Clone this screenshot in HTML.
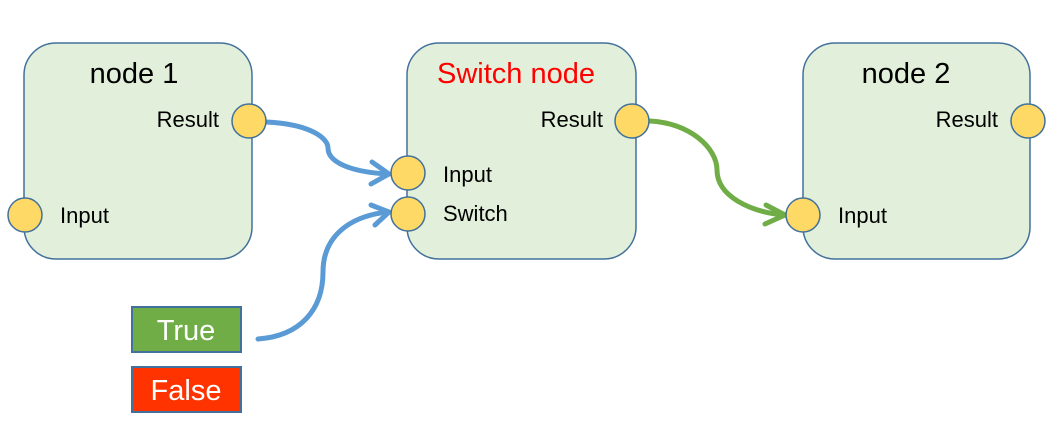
<!DOCTYPE html>
<html><head><style>body{margin:0;background:#fff}svg{display:block}</style></head>
<body>
<svg width="1059" height="439" viewBox="0 0 1059 439" font-family="Liberation Sans, sans-serif">
<g fill="#e2efda" stroke="#41719c" stroke-width="1.5">
<rect x="24" y="43" width="228" height="216" rx="32"/>
<rect x="407" y="43" width="229" height="216" rx="32"/>
<rect x="803" y="43" width="227" height="216" rx="32"/>
</g>
<g fill="none" stroke-width="5" stroke-linecap="round" stroke-linejoin="round">
<path d="M266 122 C310 124 328 138 328 148 C328 162 350 172 388 174" stroke="#5b9bd5"/>
<path d="M372 162 L389 174 L371 184" stroke="#5b9bd5"/>
<path d="M258 339 C300 336 323 310 323 272 C323 236 350 216 388 212" stroke="#5b9bd5"/>
<path d="M371 205 L389 212 L375 225" stroke="#5b9bd5"/>
<path d="M650 121 C690 123 717 148 717 170 C717 196 750 212 784 215" stroke="#70ad47"/>
<path d="M766 205 L785 215 L765 224" stroke="#70ad47"/>
</g>
<g fill="#ffd966" stroke="#41719c" stroke-width="1.5">
<circle cx="249" cy="121" r="17"/>
<circle cx="25" cy="215" r="17"/>
<circle cx="408" cy="173" r="17"/>
<circle cx="408" cy="214" r="17"/>
<circle cx="632" cy="121" r="17"/>
<circle cx="803" cy="215" r="17"/>
<circle cx="1028" cy="121" r="17"/>
</g>
<g font-size="29" text-anchor="middle">
<text x="134" y="83">node 1</text>
<text x="516" y="83" fill="#ff0000">Switch node</text>
<text x="906" y="83">node 2</text>
</g>
<g font-size="22">
<text x="219" y="127" text-anchor="end">Result</text>
<text x="60" y="223">Input</text>
<text x="443" y="182">Input</text>
<text x="443" y="221">Switch</text>
<text x="603" y="127" text-anchor="end">Result</text>
<text x="838" y="223">Input</text>
<text x="998" y="127" text-anchor="end">Result</text>
</g>
<rect x="132" y="307" width="109" height="45" fill="#70ad47" stroke="#41719c" stroke-width="2"/>
<rect x="132" y="367" width="109" height="45" fill="#ff3300" stroke="#41719c" stroke-width="2"/>
<g font-size="29" fill="#fff" text-anchor="middle">
<text x="186" y="340">True</text>
<text x="186" y="400">False</text>
</g>
</svg>
</body></html>
